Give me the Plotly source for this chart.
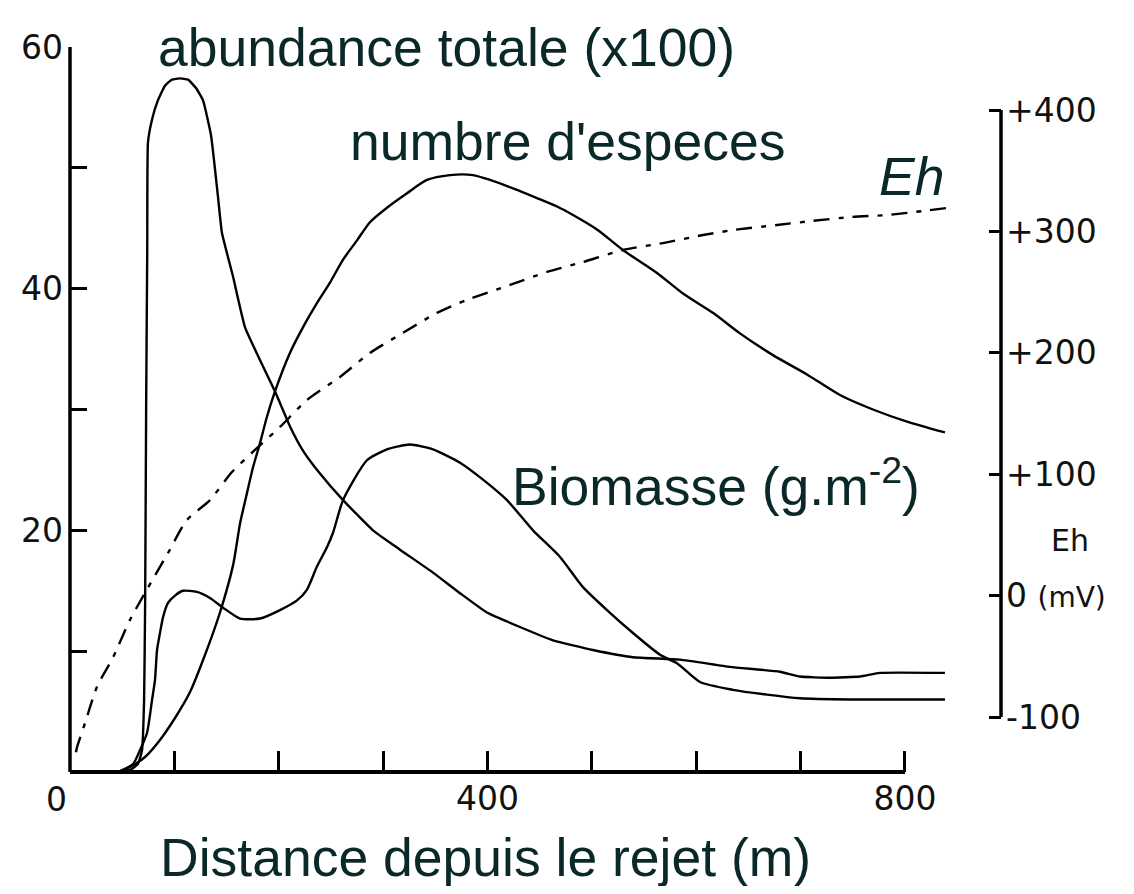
import plotly.graph_objects as go

# ---------------- data ----------------
abund_x = [43, 57.5, 65, 69, 71, 72, 73, 74, 74.7, 78.6, 84.3, 91, 97.7, 105.4, 113.1, 120.7, 127.4,
           135.1, 141.8, 145.6, 156.2, 167.7, 182, 196.4, 210.8, 223.2, 239.5, 261.6, 290.3, 316.2,
           347.8, 373.7, 399.5, 431.1, 462.8, 501.1, 539.4, 584.4, 632.3, 680.2, 699.4, 728.1, 756.9,
           776, 838.3]
abund_y = [0, 0.17, 0.66, 1.8, 6.0, 14.2, 30.8, 43.2, 52.1, 54.0, 55.6, 56.8, 57.3, 57.4, 57.3, 56.6,
           55.6, 52.7, 47.6, 44.6, 41.0, 36.8, 34.1, 31.5, 28.6, 26.6, 24.7, 22.5, 20.0, 18.4, 16.5,
           14.8, 13.2, 12.0, 10.9, 10.1, 9.5, 9.3, 8.7, 8.3, 7.9, 7.8, 7.9, 8.2, 8.2]

species_x = [46, 57.5, 71.9, 86.2, 100.6, 115, 129.3, 143.7, 156.2, 163, 169.6, 175.3, 182, 188.7,
             196.4, 210.8, 223.2, 236.6, 249.1, 261.6, 275, 287.4, 303.7, 322.9, 342, 364.1, 386.1,
             402.4, 424.4, 447.4, 466.6, 481.9, 504.9, 529.8, 562.4, 587.3, 616, 641.9, 673.5, 706.1,
             737.7, 769.3, 801.9, 838.3]
species_y = [0, 0.41, 1.24, 2.65, 4.47, 6.62, 9.68, 13.2, 17.1, 20.6, 23.1, 25.2, 27.2, 29.4, 31.5,
             34.7, 36.8, 38.8, 40.5, 42.4, 44.0, 45.5, 46.7, 47.9, 49.0, 49.4, 49.4, 49.0, 48.3, 47.5,
             46.8, 46.1, 44.9, 43.2, 41.3, 39.6, 38.0, 36.3, 34.5, 32.9, 31.2, 30.0, 29.0, 28.1]

biomass_x = [46, 60.4, 67.1, 73.8, 78.6, 81.4, 83.4, 86.2, 89.1, 93.9, 100.6, 108.3, 121.7, 134.1,
             146.6, 162.9, 182, 201.2, 217.5, 227.1, 236.6, 246.2, 252, 261.6, 284.5, 303.7, 325.7,
             347.8, 373.7, 395.7, 418.7, 443.6, 469.5, 491.5, 514.5, 539.4, 565.3, 581.6, 603.6,
             635.2, 667.8, 699.4, 747.3, 838.3]
biomass_y = [0, 0.66, 1.82, 3.23, 5.96, 7.6, 10.1, 11.5, 12.8, 14.0, 14.6, 15.0, 14.9, 14.4, 13.6,
             12.7, 12.7, 13.4, 14.2, 15.1, 17.0, 18.6, 19.8, 22.5, 25.8, 26.7, 27.1, 26.7, 25.6, 24.2,
             22.5, 20.0, 17.8, 15.3, 13.4, 11.5, 9.7, 9.0, 7.45, 6.8, 6.4, 6.1, 6.0, 6.0]

eh_x = [5.7, 6.7, 14.4, 25.9, 41.2, 57.5, 93.9, 112.1, 134.1, 155.2, 177.2, 201.2, 227.1, 258.7,
        287.4, 319, 351.6, 380.4, 421.6, 457, 491.5, 529.8, 568.1, 606.5, 635.2, 677.4, 710.9,
        749.2, 782.8, 817.2, 847.9]
eh_mv = [-129, -125, -105, -75, -51, -20, 35.1, 62.3, 78.7, 101.8, 120, 138.9, 161.2, 180.1, 199.9,
         216.4, 232.9, 243.6, 255.9, 266.6, 274.8, 284.7, 290.4, 297.0, 301.1, 305.3, 308.6, 311.9,
         313.5, 316.8, 320.1]

x_ticks = [400, 800]
x_ticktext = ["400", "800"]
x_minor_step = 100
y_ticks = [20, 40, 60]
y_ticktext = ["20", "40", "60"]
y_minor_step = 10
y2_ticks = [-100, 0, 100, 200, 300, 400]
y2_ticktext = ["-100", "0 <span style='font-size:28px'>(mV)</span>", "+100", "+200", "+300", "+400"]

# ---------------- figure ----------------
LINE = dict(color="black", width=2.4)
TXT = "#0a2828"
BIG = dict(family="Liberation Sans, Arial, sans-serif", size=53.5, color=TXT)
TICKF = dict(family="DejaVu Sans, sans-serif", size=33, color="#111111")

fig = go.Figure()
fig.add_trace(go.Scatter(x=abund_x, y=abund_y, mode="lines", line=dict(LINE, shape="spline", smoothing=0.4),
                         name="abundance"))
fig.add_trace(go.Scatter(x=species_x, y=species_y, mode="lines", line=dict(LINE, shape="spline", smoothing=0.7),
                         name="especes"))
fig.add_trace(go.Scatter(x=biomass_x, y=biomass_y, mode="lines", line=dict(LINE, shape="spline", smoothing=0.6),
                         name="biomasse"))
fig.add_trace(go.Scatter(x=eh_x, y=eh_mv, mode="lines", yaxis="y2",
                         line=dict(color="black", width=2.4, dash="16px,9px,5px,9px",
                                   shape="spline", smoothing=0.7), name="Eh"))

# the page body has an 8px margin: the figure is sized/margined so the plot area
# lands at x 70..1001, y 47..772 of the window
fig.update_layout(
    width=1126, height=878,
    margin=dict(l=62, r=133, t=39, b=114, autoexpand=False),
    paper_bgcolor="white", plot_bgcolor="white",
    showlegend=False,
    xaxis=dict(range=[0, 892], showgrid=False, zeroline=False, showline=False, automargin=False,
               tickmode="array", tickvals=x_ticks, ticktext=x_ticktext,
               ticks="inside", ticklen=21, tickwidth=3, tickcolor="black",
               minor=dict(tickmode="linear", tick0=0, dtick=x_minor_step, ticks="inside",
                          ticklen=21, tickwidth=3, tickcolor="black", showgrid=False),
               tickfont=TICKF, ticklabelstandoff=4),
    yaxis=dict(range=[0, 60], showgrid=False, zeroline=False, showline=False, automargin=False,
               tickmode="array", tickvals=y_ticks, ticktext=y_ticktext,
               ticks="inside", ticklen=17, tickwidth=3, tickcolor="black",
               minor=dict(tickmode="linear", tick0=0, dtick=y_minor_step, ticks="inside",
                          ticklen=17, tickwidth=3, tickcolor="black", showgrid=False),
               tickfont=TICKF, ticklabelstandoff=6),
    yaxis2=dict(range=[-145.3, 451.9], overlaying="y", side="right", automargin=False,
                showgrid=False, zeroline=False, showline=False,
                tickmode="array", tickvals=y2_ticks, ticktext=y2_ticktext,
                ticks="inside", ticklen=12, tickwidth=3, tickcolor="black",
                tickfont=TICKF, ticklabelstandoff=4),
)

# axis lines
fig.add_shape(type="line", xref="x", yref="paper", x0=0, x1=800, y0=0, y1=0,
              line=dict(color="black", width=4))
fig.add_shape(type="line", xref="paper", yref="y", x0=0, x1=0, y0=0, y1=60,
              line=dict(color="black", width=3.5))
fig.add_shape(type="line", xref="paper", yref="y2", x0=1, x1=1, y0=-100, y1=400,
              line=dict(color="black", width=3.5))

# labels
fig.add_annotation(x=0, y=0, xref="x", yref="y", text="0", showarrow=False,
                   font=TICKF, xshift=-14, yshift=-27)
fig.add_annotation(x=(1070 - 70) / 931, y=19.2, xref="paper", yref="y", text="Eh",
                   xanchor="center", yanchor="middle",
                   showarrow=False, font=dict(family="DejaVu Sans, sans-serif", size=30, color="#111111"))

fig.add_annotation(x=361, y=60, xref="x", yref="y", text="abundance totale (x100)",
                   showarrow=False, font=BIG)
fig.add_annotation(x=477, y=52.2, xref="x", yref="y", text="numbre d'especes",
                   showarrow=False, font=BIG)
fig.add_annotation(x=806, y=49.3, xref="x", yref="y", text="<i>Eh</i>",
                   showarrow=False, font=BIG)
fig.add_annotation(x=619, y=24.0, xref="x", yref="y", text="Biomasse (g.m<sup>-2</sup>)",
                   showarrow=False, font=BIG)
fig.add_annotation(x=0.446, y=-0.118, xref="paper", yref="paper", text="Distance depuis le rejet (m)",
                   xanchor="center", yanchor="middle", showarrow=False, font=BIG)

fig.write_html("out.html")
